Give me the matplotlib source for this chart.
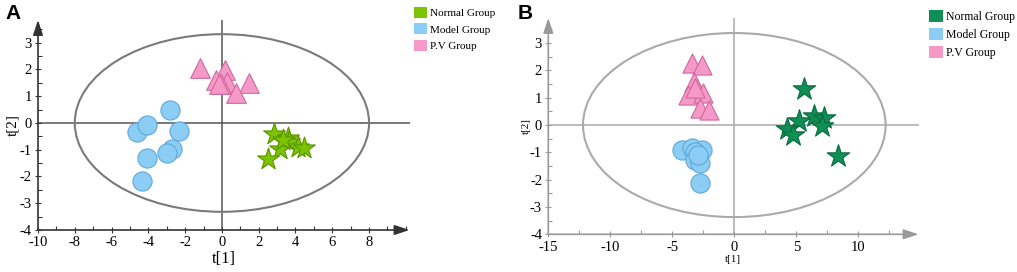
import matplotlib
matplotlib.use('Agg')
import matplotlib.pyplot as plt
from matplotlib.patches import Ellipse, Patch
from matplotlib.ticker import MultipleLocator

# ── Data (score plots t[1] vs t[2]) ────────────────────────────────────────────

A_normal_x = [2.81, 3.57, 3.67, 3.17, 4.16, 4.47, 2.53, 3.30]
A_normal_y = [-0.42, -0.56, -0.71, -0.98, -0.90, -0.92, -1.33, -0.65]
A_model_x = [-2.81, -4.62, -4.08, -2.32, -2.72, -2.99, -4.08, -4.35]
A_model_y = [0.50, -0.34, -0.09, -0.31, -0.96, -1.12, -1.31, -2.15]
A_pv_x = [-1.18, 0.18, -0.31, 0.27, -0.04, 1.45, 0.78, -0.18]
A_pv_y = [2.07, 1.97, 1.62, 1.54, 1.47, 1.51, 1.12, 1.47]
A_ellipse = (8.0, 3.32)   # semi-axes

B_normal_x = [5.62, 5.24, 6.43, 7.23, 7.05, 4.22, 4.71, 8.39]
B_normal_y = [1.31, 0.16, 0.33, 0.25, -0.04, -0.16, -0.37, -1.14]
B_model_x = [-4.24, -3.44, -2.63, -3.17, -3.17, -2.77, -2.77, -2.95]
B_model_y = [-0.92, -0.85, -0.92, -0.98, -1.28, -1.40, -2.11, -1.10]
B_pv_x = [-3.44, -2.63, -3.25, -3.71, -2.55, -3.20, -2.77, -2.02]
B_pv_y = [2.26, 2.20, 1.59, 1.10, 1.18, 1.35, 0.61, 0.55]
B_ellipse = (12.2, 3.37)

group_labels = ['Normal Group', 'Model Group', 'P.V Group']

# ── Styling ────────────────────────────────────────────────────────────────────

plt.rcParams['axes.unicode_minus'] = False
SERIF = ['Liberation Serif', 'DejaVu Serif']
MODEL_FACE, MODEL_EDGE = '#8ccdf5', '#5ea9d9'
PV_FACE, PV_EDGE = '#f59ac8', '#d0679e'

W, H = 1017, 272
fig = plt.figure(figsize=(W / 100, H / 100), dpi=100)


def px_axes(left, top, right, bottom):
    return fig.add_axes([left / W, 1 - bottom / H, (right - left) / W,
                         (bottom - top) / H])


def draw_panel(ax, xlim, ylim, axis_col, cross_col, ell_col, ell, xmajor,
               xminor, ymajor, yminor):
    ax.set_xlim(*xlim)
    ax.set_ylim(*ylim)
    for sp in ax.spines.values():
        sp.set_visible(False)
    # arrowed axes
    arrow = dict(arrowstyle='-|>,head_length=0.9,head_width=0.3',
                 color=axis_col, lw=1.2, shrinkA=0, shrinkB=0)
    ax.annotate('', xy=(xlim[1], ylim[0]), xytext=(xlim[0], ylim[0]),
                arrowprops=arrow, annotation_clip=False)
    ax.annotate('', xy=(xlim[0], ylim[1]), xytext=(xlim[0], ylim[0]),
                arrowprops=arrow, annotation_clip=False)
    ax.axhline(0, color=cross_col, lw=1.1, zorder=1)
    ax.axvline(0, color=cross_col, lw=1.1, zorder=1)
    ax.add_patch(Ellipse((0, 0), 2 * ell[0], 2 * ell[1], fill=False,
                         edgecolor=ell_col, lw=1.5, zorder=1))
    ax.xaxis.set_major_locator(MultipleLocator(xmajor))
    ax.xaxis.set_minor_locator(MultipleLocator(xminor))
    ax.yaxis.set_major_locator(MultipleLocator(ymajor))
    ax.yaxis.set_minor_locator(MultipleLocator(yminor))
    ax.set_xticks([t for t in ax.get_xticks() if xlim[0] <= t <= xlim[1] - 1.5])
    ax.set_yticks([t for t in ax.get_yticks() if ylim[0] <= t <= 3])
    ax.tick_params(which='major', direction='inout', length=5, width=0.8,
                   color=axis_col, labelsize=10.5, pad=2)
    ax.tick_params(which='minor', direction='in', length=3, width=0.8,
                   color=axis_col)
    for lab in ax.get_xticklabels() + ax.get_yticklabels():
        lab.set_family(SERIF)


def add_legend(ax, normal_col, x_px, y_px, size):
    ax.legend(handles=[Patch(facecolor=normal_col), Patch(facecolor=MODEL_FACE),
                       Patch(facecolor=PV_FACE)],
              labels=group_labels, loc='upper left',
              bbox_to_anchor=(x_px / W, 1 - y_px / H),
              bbox_transform=fig.transFigure, frameon=False,
              handlelength=1.15, handleheight=1.15, handletextpad=0.3,
              labelspacing=0.45, borderpad=0, borderaxespad=0,
              prop={'family': SERIF, 'size': size})


# ── Panel A ────────────────────────────────────────────────────────────────────
axA = px_axes(38, 20, 409.5, 230)
draw_panel(axA, (-10, 10.2), (-4, 3.85), '#333333', '#555555', '#7a7a7a',
           A_ellipse, 2, 1, 1, 0.5)
axA.scatter(A_pv_x, A_pv_y, marker='^', s=200, c=PV_FACE, edgecolors=PV_EDGE,
            linewidths=0.8, zorder=3)
axA.scatter(A_model_x, A_model_y, marker='o', s=190, c=MODEL_FACE,
            edgecolors=MODEL_EDGE, linewidths=0.8, zorder=3)
axA.scatter(A_normal_x, A_normal_y, marker='*', s=270, c='#7cc300',
            edgecolors='#5a9400', linewidths=0.8, zorder=3)
axA.set_xlabel('t[1]', fontsize=12, family=SERIF, labelpad=1)
axA.set_ylabel('t[2]', fontsize=11, family=SERIF, labelpad=0)
fig.text(5 / W, 1 - 4 / H, 'A', fontsize=15, fontweight='bold',
         family=['Liberation Sans', 'DejaVu Sans'], va='top', ha='left')
add_legend(axA, '#7cc300', 414, 7, 8)

# ── Panel B ────────────────────────────────────────────────────────────────────
axB = px_axes(548.3, 18, 918.5, 234.3)
draw_panel(axB, (-15, 14.85), (-4, 3.92), '#999999', '#aaaaaa', '#aaaaaa',
           B_ellipse, 5, 2.5, 1, 0.5)
axB.scatter(B_pv_x, B_pv_y, marker='^', s=190, c=PV_FACE, edgecolors=PV_EDGE,
            linewidths=0.8, zorder=3)
axB.scatter(B_model_x, B_model_y, marker='o', s=190, c=MODEL_FACE,
            edgecolors=MODEL_EDGE, linewidths=0.8, zorder=3)
axB.scatter(B_normal_x, B_normal_y, marker='*', s=290, c='#0f8f55',
            edgecolors='#0a6a3e', linewidths=0.8, zorder=3)
axB.set_xlabel('t[1]', fontsize=8, family=SERIF, labelpad=1)
axB.set_ylabel('t[2]', fontsize=8, family=SERIF, labelpad=-1)
fig.text(518 / W, 1 - 4 / H, 'B', fontsize=15, fontweight='bold',
         family=['Liberation Sans', 'DejaVu Sans'], va='top', ha='left')
add_legend(axB, '#0f8f55', 929, 10, 8.5)

fig.savefig('out.png', dpi=100)
